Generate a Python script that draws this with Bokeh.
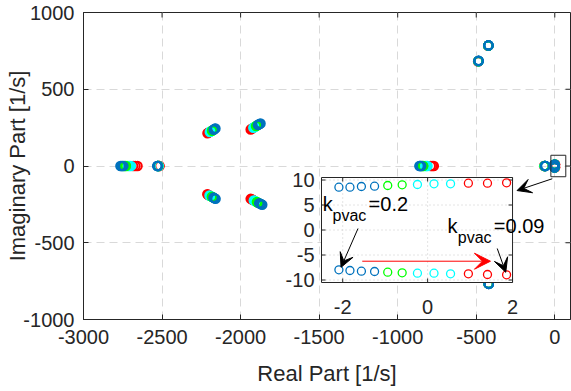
import numpy as np
from bokeh.plotting import figure
from bokeh.models import ColumnDataSource, Range1d, Arrow, VeeHead, FixedTicker, PrintfTickFormatter
from bokeh.core.properties import value
from bokeh.embed import file_html
from bokeh.resources import INLINE

# ---------------- data ----------------
k_values = [0.20, 0.19, 0.18, 0.17, 0.16, 0.15, 0.14, 0.13, 0.12, 0.11, 0.10, 0.09]
k_colors = ["#0072BD"] * 4 + ["#00FF00"] * 2 + ["#00FFFF"] * 3 + ["#FF0000"] * 3

# eigenvalue branches (one value per k, k = 0.20 ... 0.09)
br_a_re = [-2765, -2758, -2752, -2746, -2738, -2730, -2718, -2708, -2698, -2684, -2670, -2656]
br_a_im = [0] * 12
br_b_re = [-2530, -2529, -2528, -2527, -2526, -2525, -2524, -2522, -2521, -2520, -2518, -2516]
br_b_im = [0] * 12
br_c_re = [-2160, -2164, -2168, -2172, -2177, -2182, -2186, -2191, -2196, -2201, -2206, -2211]
br_c_im = [245, 242, 239, 236, 233, 230, 228, 225, 222, 219, 216, 213]
br_d_re = [-1873, -1879, -1885, -1890, -1896, -1902, -1908, -1913, -1919, -1925, -1930, -1936]
br_d_im = [277, 274, 270, 267, 263, 260, 256, 252, 249, 245, 242, 238]
br_e_re = [-2159, -2164, -2169, -2173, -2178, -2183, -2188, -2193, -2198, -2202, -2207, -2212]
br_e_im = [-214, -211, -209, -206, -203, -200, -198, -195, -192, -190, -187, -184]
br_f_re = [-1862, -1869, -1875, -1882, -1889, -1896, -1902, -1909, -1916, -1922, -1929, -1936]
br_f_im = [-253, -249, -246, -242, -239, -235, -232, -228, -224, -221, -217, -214]
br_g_re = [-862, -858, -854, -850, -843, -838, -826, -818, -810, -790, -780, -770]
br_g_im = [0] * 12
br_h_re = [-485, -485, -485, -485, -486, -486, -486, -487, -487, -487, -488, -488]
br_h_im = [685, 685, 684, 684, 684, 683, 683, 683, 682, 682, 682, 681]
br_i_re = [-422, -422, -422, -422, -423, -423, -423, -423, -424, -424, -424, -424]
br_i_im = [786, 786, 786, 785, 785, 785, 785, 784, 784, 784, 784, 783]
br_j_re = [-420, -420, -420, -420, -421, -421, -421, -421, -422, -422, -422, -422]
br_j_im = [-768, -768, -768, -767, -767, -767, -767, -766, -766, -766, -766, -765]
br_k_re = [-485, -485, -485, -485, -486, -486, -486, -487, -487, -487, -488, -488]
br_k_im = [-684, -684, -684, -683, -683, -683, -683, -682, -682, -682, -682, -681]
br_l_re = [-60, -60, -61, -61, -63, -64, -64, -65, -65, -66, -66, -67]
br_l_im = [0] * 12
# the two slow eigenvalues shown in the inset
br_m_re = [-2.09, -1.83, -1.56, -1.25, -0.94, -0.60, -0.24, 0.15, 0.54, 0.96, 1.41, 1.86]
br_m_im = [8.56, 8.56, 8.70, 8.76, 8.90, 9.04, 9.10, 9.24, 9.24, 9.36, 9.36, 9.44]
br_n_re = [-2.09, -1.83, -1.56, -1.25, -0.94, -0.60, -0.24, 0.15, 0.54, 0.96, 1.41, 1.86]
br_n_im = [-7.96, -8.10, -8.24, -8.30, -8.44, -8.56, -8.64, -8.64, -8.76, -8.76, -8.90, -8.96]

x_ticks = [-3000, -2500, -2000, -1500, -1000, -500, 0]
y_ticks = [-1000, -500, 0, 500, 1000]
inset_x_ticks = [-2, 0, 2]
inset_y_ticks = [-10, -5, 0, 5, 10]

# ---------------- layout constants ----------------
X_RANGE = (-3000, 100)
Y_RANGE = (-1000, 1000)
FRAME_W, FRAME_H = 487, 307
INSET_XLIM = (-2.5, 2.0)
INSET_YLIM = (-10.5, 10.5)
INSET_BOX = (-1485, -269, -759, -75)   # where the inset sits, in main data units
ZOOM_BOX = (-25, 70, -70, 70)           # small rectangle around the origin
FONT = value("Liberation Sans")
TXT = "#262626"
TICK_PX = 5

p = figure(width=571, height=391, x_range=Range1d(*X_RANGE), y_range=Range1d(*Y_RANGE),
           output_backend="svg", toolbar_location=None,
           min_border_left=83, min_border_right=1, min_border_top=12, min_border_bottom=72)
p.background_fill_color = "white"
p.border_fill_color = "white"
p.outline_line_color = TXT
p.outline_line_width = 1

for ax, ticks in ((p.xaxis, x_ticks), (p.yaxis, y_ticks)):
    ax.ticker = FixedTicker(ticks=ticks)
    ax.formatter = PrintfTickFormatter(format="%d")
    ax.major_tick_in = TICK_PX
    ax.major_tick_out = 0
    ax.minor_tick_line_color = None
    ax.axis_line_color = TXT
    ax.major_tick_line_color = TXT
    ax.major_label_text_font = "Liberation Sans"
    ax.major_label_text_font_size = "20px"
    ax.major_label_text_color = TXT
    ax.axis_label_text_font = "Liberation Sans"
    ax.axis_label_text_font_size = "22px"
    ax.axis_label_text_font_style = "normal"
    ax.axis_label_text_color = TXT

p.xaxis.axis_label = "Real Part [1/s]"
p.yaxis.axis_label = "Imaginary Part [1/s]"
p.xaxis.major_label_standoff = 10
p.xaxis.axis_label_standoff = 14
p.yaxis.major_label_standoff = 9
p.yaxis.axis_label_standoff = -10

p.grid.grid_line_color = "#d9d9d9"
p.grid.grid_line_dash = "8 5"
p.grid.grid_line_width = 1

# inward ticks on the top and right edges of the box
mux = (X_RANGE[1] - X_RANGE[0]) / FRAME_W
muy = (Y_RANGE[1] - Y_RANGE[0]) / FRAME_H
p.segment(x0=x_ticks, y0=[Y_RANGE[1]] * len(x_ticks), x1=x_ticks,
          y1=[Y_RANGE[1] - TICK_PX * muy] * len(x_ticks), line_color=TXT, line_width=1)
p.segment(x0=[X_RANGE[1]] * len(y_ticks), y0=y_ticks, x1=[X_RANGE[1] - TICK_PX * mux] * len(y_ticks),
          y1=y_ticks, line_color=TXT, line_width=1)

# ---------------- main scatter ----------------
branches = [(br_a_re, br_a_im), (br_b_re, br_b_im), (br_c_re, br_c_im), (br_d_re, br_d_im),
            (br_e_re, br_e_im), (br_f_re, br_f_im), (br_g_re, br_g_im), (br_h_re, br_h_im),
            (br_i_re, br_i_im), (br_j_re, br_j_im), (br_k_re, br_k_im), (br_l_re, br_l_im),
            (br_m_re, br_m_im), (br_n_re, br_n_im)]
xs, ys, cs = [], [], []
for idx in reversed(range(len(k_values))):   # k = 0.09 first, k = 0.20 on top
    for re, im in branches:
        xs.append(re[idx]); ys.append(im[idx]); cs.append(k_colors[idx])
main_src = ColumnDataSource(dict(x=xs, y=ys, c=cs))
p.scatter("x", "y", source=main_src, marker="circle", size=8.5, fill_color=None,
          line_color="c", line_width=2)

# zoom box around origin
p.quad(left=[ZOOM_BOX[0]], right=[ZOOM_BOX[1]], bottom=[ZOOM_BOX[2]], top=[ZOOM_BOX[3]],
       fill_color=None, line_color=TXT, line_width=1)

# ---------------- inset via extra ranges ----------------
def extra(r0, r1, b0, b1, l0, l1):
    a = (l1 - l0) / (b1 - b0)
    return l0 + (r0 - b0) * a, l0 + (r1 - b0) * a

ix = extra(X_RANGE[0], X_RANGE[1], INSET_BOX[0], INSET_BOX[1], *INSET_XLIM)
iy = extra(Y_RANGE[0], Y_RANGE[1], INSET_BOX[2], INSET_BOX[3], *INSET_YLIM)
p.extra_x_ranges = {"ix": Range1d(*ix)}
p.extra_y_ranges = {"iy": Range1d(*iy)}
upx = (ix[1] - ix[0]) / FRAME_W   # inset units per pixel
upy = (iy[1] - iy[0]) / FRAME_H
R = dict(x_range_name="ix", y_range_name="iy")
x0, x1 = INSET_XLIM
y0, y1 = INSET_YLIM

p.quad(left=[x0], right=[x1], bottom=[y0], top=[y1], fill_color="white",
       line_color=None, **R)
# inset grid
gx = [t for t in inset_x_ticks if x0 < t < x1]
gy = [t for t in inset_y_ticks if y0 < t < y1]
p.segment(x0=gx, y0=[y0] * len(gx), x1=gx, y1=[y1] * len(gx), line_color="#c8c8c8",
          line_dash="1 3", line_width=1, **R)
p.segment(x0=[x0] * len(gy), y0=gy, x1=[x1] * len(gy), y1=gy, line_color="#c8c8c8",
          line_dash="1 3", line_width=1, **R)
# inset ticks (inward)
tl = 4
p.segment(x0=inset_x_ticks, y0=[y0] * 3, x1=inset_x_ticks, y1=[y0 + tl * upy] * 3, line_color=TXT, **R)
p.segment(x0=inset_x_ticks, y0=[y1] * 3, x1=inset_x_ticks, y1=[y1 - tl * upy] * 3, line_color=TXT, **R)
p.segment(x0=[x0] * 5, y0=inset_y_ticks, x1=[x0 + tl * upx] * 5, y1=inset_y_ticks, line_color=TXT, **R)
p.segment(x0=[x1] * 5, y0=inset_y_ticks, x1=[x1 - tl * upx] * 5, y1=inset_y_ticks, line_color=TXT, **R)
p.quad(left=[x0], right=[x1], bottom=[y0], top=[y1], fill_color=None,
       line_color=TXT, line_width=1, **R)
# inset tick labels
p.text(x=inset_x_ticks, y=[y0] * 3, text=[str(t) for t in inset_x_ticks], text_align="center",
       text_baseline="top", y_offset=17, text_font=FONT, text_font_size=value("20px"),
       text_color=TXT, **R)
p.text(x=[x0] * 5, y=inset_y_ticks, text=[str(t) for t in inset_y_ticks], text_align="right",
       text_baseline="middle", x_offset=-7, text_font=FONT, text_font_size=value("20px"),
       text_color=TXT, **R)

# inset points
isx, isy, isc = [], [], []
for idx in range(len(k_values)):
    for re, im in ((br_m_re, br_m_im), (br_n_re, br_n_im)):
        isx.append(re[idx]); isy.append(im[idx]); isc.append(k_colors[idx])
inset_src = ColumnDataSource(dict(x=isx, y=isy, c=isc))
p.scatter("x", "y", source=inset_src, marker="circle", size=8, fill_color=None,
          line_color="c", line_width=1.3, **R)

# annotations
def klabel(xk, yk, xs_, ys_, xe, ye, tail):
    p.text(x=[xk], y=[yk], text=["k"], text_font=FONT, text_font_size=value("20px"),
           text_align="left", text_baseline="middle", text_color="black", **R)
    p.text(x=[xs_], y=[ys_], text=["pvac"], text_font=FONT, text_font_size=value("16px"),
           text_align="left", text_baseline="middle", text_color="black", **R)
    p.text(x=[xe], y=[ye], text=[tail], text_font=FONT, text_font_size=value("20px"),
           text_align="left", text_baseline="middle", text_color="black", **R)

klabel(-2.47, 5.3, -2.24, 2.9, -1.39, 5.3, "=0.2")
klabel(0.47, 0.9, 0.71, -1.5, 1.56, 0.9, "=0.09")

p.add_layout(Arrow(x_start=-1.64, y_start=0.3, x_end=br_n_re[0] + 0.05, y_end=br_n_im[0] + 0.5,
                   end=VeeHead(size=14, fill_color="black", line_color="black"),
                   line_color="black", line_width=1, **R))
p.add_layout(Arrow(x_start=1.64, y_start=-3.7, x_end=br_n_re[-1] - 0.02, y_end=br_n_im[-1] + 0.5,
                   end=VeeHead(size=14, fill_color="black", line_color="black"),
                   line_color="black", line_width=1, **R))
p.add_layout(Arrow(x_start=-1.54, y_start=-6.24, x_end=1.48, y_end=-6.24,
                   end=VeeHead(size=16, fill_color="red", line_color="red"),
                   line_color="red", line_width=1, **R))
# arrow from zoom box to inset (main units)
p.add_layout(Arrow(x_start=-16, y_start=-83, x_end=-240, y_end=-160,
                   end=VeeHead(size=14, fill_color="black", line_color="black"),
                   line_color="black", line_width=1))

open("out.html", "w").write(file_html(p, INLINE))
